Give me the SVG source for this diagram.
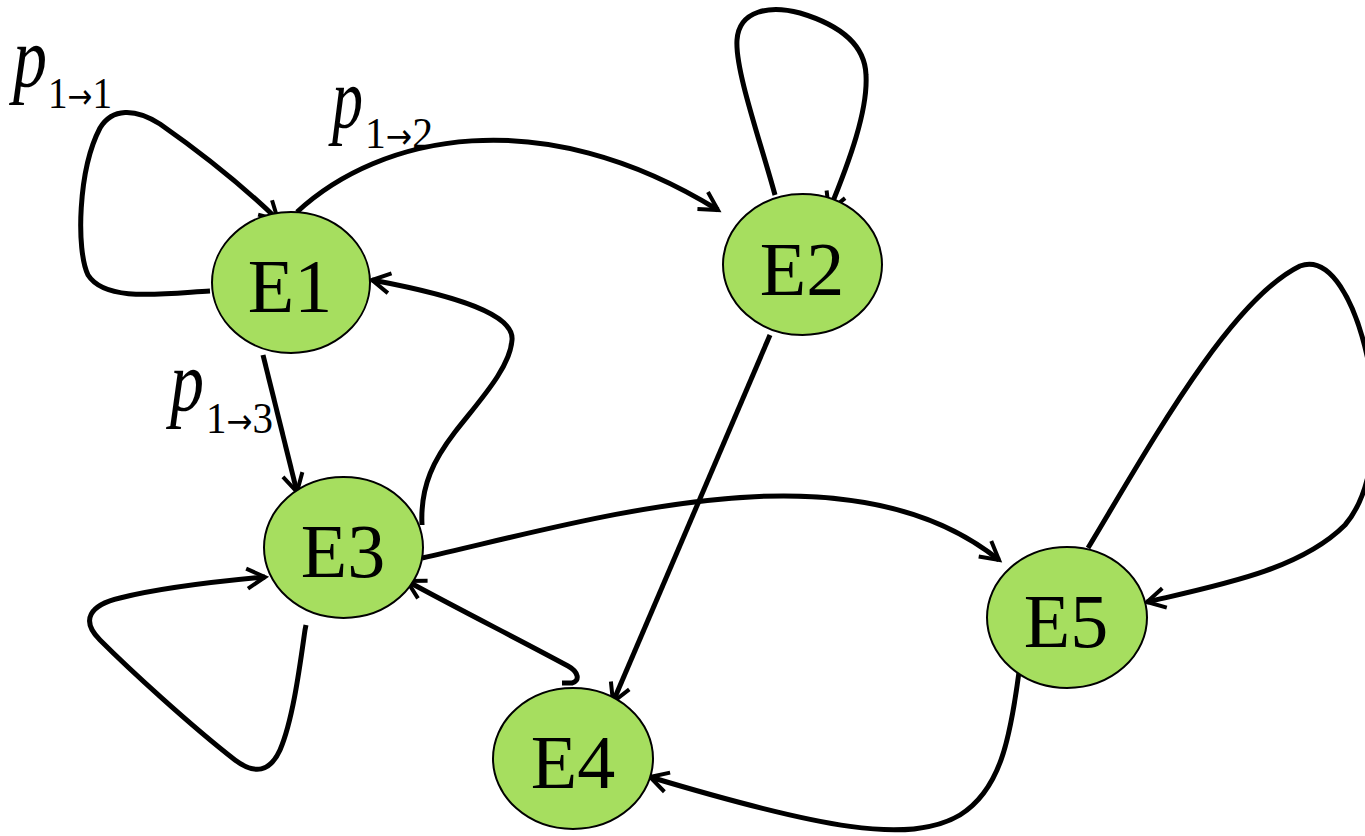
<svg xmlns="http://www.w3.org/2000/svg" width="1365" height="836" viewBox="0 0 1365 836">
<style>
.node{fill:#A6DE5F;stroke:#000;stroke-width:2}
.nt{font-family:"Liberation Serif","Times New Roman",serif;font-size:76px;fill:#000;text-anchor:middle}
.edge{fill:none;stroke:#000;stroke-width:5;stroke-linecap:butt;stroke-linejoin:round}
.pl{font-family:"Liberation Serif","Times New Roman",serif;font-style:italic;font-size:86px;fill:#000}
.sub{font-family:"Liberation Serif","Times New Roman",serif;font-size:45px;fill:#000}
.ar{font-family:"DejaVu Sans",sans-serif;font-size:34px}
</style>
<defs>
<marker id="arr" markerUnits="userSpaceOnUse" markerWidth="26" markerHeight="26" viewBox="0 0 26 26" refX="21" refY="13" orient="auto">
<path d="M3,3 L21,13 L3,23" fill="none" stroke="#000" stroke-width="4"/>
</marker>
</defs>
<rect width="1365" height="836" fill="#fff"/>
<g id="connectors">
<path id="e11" class="edge" marker-end="url(#arr)" d="M210,291 C160,294 105,302 88,275 C76,250 78,170 100,128 C112,108 135,108 160,124 C200,152 245,188 278,220"/>
<path id="e12" class="edge" marker-end="url(#arr)" d="M297,212 C380,135 540,100 718,210"/>
<path id="e22" class="edge" marker-end="url(#arr)" d="M775,195 C760,140 735,70 737,40 C739,10 770,5 800,13 C840,25 865,45 866,75 C868,110 850,160 829,211"/>
<path id="e13" class="edge" marker-end="url(#arr)" d="M263,355 L297,492"/>
<path id="e31" class="edge" marker-end="url(#arr)" d="M422,525 C420,485 435,458 455,432 C480,400 510,368 512,340 C514,320 480,300 372,280"/>
<path id="e24" class="edge" marker-end="url(#arr)" d="M770,335 L613,702"/>
<path id="e35" class="edge" marker-end="url(#arr)" d="M422,558 C600,518 850,440 999,560"/>
<path id="e43" class="edge" marker-end="url(#arr)" d="M562,683 L572,683 C580,681 579,672 568,666 C520,640 460,610 407,581"/>
<path id="e33" class="edge" marker-end="url(#arr)" d="M306,625 L305,630 C300,665 293,720 280,750 C270,772 255,775 235,760 C190,725 130,670 100,640 C80,620 90,605 120,598 C160,588 210,582 265,577"/>
<path id="e55" class="edge" marker-end="url(#arr)" d="M1088,548 C1150,445 1230,300 1300,266 C1330,255 1355,300 1368,360 C1380,420 1375,490 1345,525 C1300,570 1220,585 1147,602"/>
<path id="e54" class="edge" marker-end="url(#arr)" d="M1019,672 C1010,740 1000,790 960,815 C910,845 820,828 650,777"/>
</g>
<g id="labels">
<text class="pl" x="13" y="86" textLength="34" lengthAdjust="spacingAndGlyphs">p</text>
<text class="sub" x="48" y="108" textLength="64" lengthAdjust="spacingAndGlyphs">1<tspan class="ar">→</tspan>1</text>
<text class="pl" x="332" y="127" textLength="31" lengthAdjust="spacingAndGlyphs">p</text>
<text class="sub" x="365" y="148" textLength="68" lengthAdjust="spacingAndGlyphs">1<tspan class="ar">→</tspan>2</text>
<text class="pl" x="170" y="410" textLength="34" lengthAdjust="spacingAndGlyphs">p</text>
<text class="sub" x="206" y="433" textLength="67" lengthAdjust="spacingAndGlyphs">1<tspan class="ar">→</tspan>3</text>
</g>
<g id="E1"><ellipse class="node" cx="291" cy="282.5" rx="79" ry="70.5"/><text class="nt" x="290" y="312">E1</text></g>
<g id="E2"><ellipse class="node" cx="802.5" cy="264.5" rx="79.5" ry="70.5"/><text class="nt" x="802" y="295">E2</text></g>
<g id="E3"><ellipse class="node" cx="343.5" cy="547.5" rx="79.5" ry="70.5"/><text class="nt" x="343" y="577">E3</text></g>
<g id="E4"><ellipse class="node" cx="573" cy="758.5" rx="80" ry="70.5"/><text class="nt" x="573" y="788">E4</text></g>
<g id="E5"><ellipse class="node" cx="1067" cy="617.5" rx="80" ry="70.5"/><text class="nt" x="1066" y="647">E5</text></g>
</svg>
